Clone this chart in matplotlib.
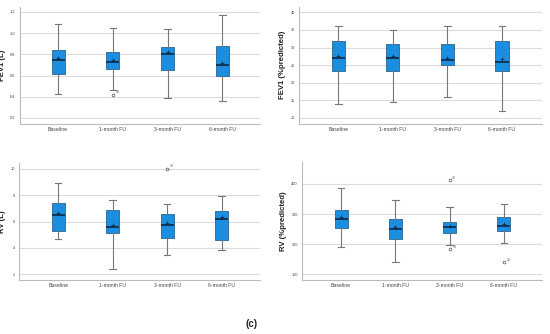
import matplotlib
matplotlib.use("Agg")
import matplotlib.pyplot as plt

plt.rcParams['font.family'] = ['Liberation Sans', 'DejaVu Sans']

categories = ["Baseline", "1-month FU", "3-month FU", "6-month FU"]

# FEV1 (L)
fev1_l_whislo = [0.43, 0.46, 0.39, 0.36]
fev1_l_q1 = [0.61, 0.66, 0.65, 0.60]
fev1_l_med = [0.75, 0.73, 0.80, 0.70]
fev1_l_q3 = [0.84, 0.82, 0.87, 0.88]
fev1_l_whishi = [1.09, 1.05, 1.04, 1.17]
fev1_l_mean = [0.77, 0.75, 0.82, 0.72]
fev1_l_fliers = [[], [0.42], [], []]
fev1_l_flier_labels = [[], ["19"], [], []]
fev1_l_ticks = [0.2, 0.4, 0.6, 0.8, 1.0, 1.2]

# FEV1 (%predicted)
fev1_p_whislo = [14.0, 14.5, 16.0, 12.0]
fev1_p_q1 = [23.2, 23.2, 25.0, 23.2]
fev1_p_med = [27.0, 27.0, 26.5, 25.9]
fev1_p_q3 = [31.9, 31.0, 31.0, 31.9]
fev1_p_whishi = [36.0, 34.9, 36.0, 36.0]
fev1_p_mean = [27.6, 27.6, 27.1, 26.7]
fev1_p_fliers = [[], [], [], []]
fev1_p_flier_labels = [[], [], [], []]
fev1_p_ticks = [10, 15, 20, 25, 30, 35, 40]

# RV (L)
rv_l_whislo = [4.68, 2.40, 3.49, 3.82]
rv_l_q1 = [5.31, 5.12, 4.78, 4.63]
rv_l_med = [6.48, 5.62, 5.77, 6.23]
rv_l_q3 = [7.42, 6.89, 6.61, 6.81]
rv_l_whishi = [8.91, 7.62, 7.32, 7.93]
rv_l_mean = [6.63, 5.75, 5.92, 6.38]
rv_l_fliers = [[], [], [10.02], []]
rv_l_flier_labels = [[], [], ["32"], []]
rv_l_ticks = [2, 4, 6, 8, 10]

# RV (%predicted)
rv_p_whislo = [190, 140, 197, 205]
rv_p_q1 = [254, 216, 239, 243]
rv_p_med = [284, 251, 257, 261]
rv_p_q3 = [313, 284, 273, 289]
rv_p_whishi = [386, 346, 323, 333]
rv_p_mean = [290, 257, 262, 268]
rv_p_fliers = [[], [], [413, 183], [140]]
rv_p_flier_labels = [[], [], ["32", "19"], ["26"]]
rv_p_ticks = [100, 200, 300, 400]

BOX = "#1b8ee0"
EDGE = "#1a4f7a"
WHISK = "#777777"
GRID = "#dcdcdc"


def draw(ax, lo, q1, med, q3, hi, mean, fliers, flabels, ticks, ylim, ylabel, xlim):
    stats = []
    for i in range(len(categories)):
        stats.append(dict(whislo=lo[i], q1=q1[i], med=med[i], q3=q3[i],
                          whishi=hi[i], mean=mean[i], fliers=fliers[i],
                          label=categories[i]))
    ax.set_axisbelow(True)
    ax.yaxis.grid(True, color=GRID, linewidth=0.8)
    ax.bxp(stats, positions=range(len(categories)), widths=0.24,
           showmeans=True, patch_artist=True,
           boxprops=dict(facecolor=BOX, edgecolor=EDGE, linewidth=0.5),
           medianprops=dict(color="#0d2f4f", linewidth=1.3),
           whiskerprops=dict(color=WHISK, linewidth=0.8),
           capprops=dict(color=WHISK, linewidth=0.8),
           capwidths=0.12,
           meanprops=dict(marker="+", markersize=3, markeredgecolor="#0d2f4f",
                          markeredgewidth=0.6),
           flierprops=dict(marker="o", markersize=2, markerfacecolor="none",
                           markeredgecolor="#555555", markeredgewidth=0.5))
    for i, (fv, fl) in enumerate(zip(fliers, flabels)):
        for v, t in zip(fv, fl):
            ax.annotate(t, (i, v), xytext=(2, 1), textcoords="offset points",
                        fontsize=2.5, color="#555555")
    ax.set_xlim(*xlim)
    ax.set_ylim(*ylim)
    ax.set_yticks(ticks)
    ax.set_yticklabels([str(t) for t in ticks])
    ax.set_xticks(range(len(categories)))
    ax.set_xticklabels(categories)
    ax.tick_params(axis="x", labelsize=3.7, colors="#444444", length=0, pad=2)
    ax.tick_params(axis="y", labelsize=2.8, colors="#444444", length=0, pad=3)
    for s in ["top", "right"]:
        ax.spines[s].set_visible(False)
    for s in ["left", "bottom"]:
        ax.spines[s].set_color("#bbbbbb")
        ax.spines[s].set_linewidth(0.8)
    ax.set_ylabel(ylabel, fontsize=5.6, fontweight="bold", color="#222222", labelpad=3)


fig = plt.figure(figsize=(5.5, 3.34), dpi=100)
ax1 = fig.add_axes([0.036, 0.629, 0.436, 0.350])
ax2 = fig.add_axes([0.544, 0.629, 0.441, 0.351])
ax3 = fig.add_axes([0.0345, 0.162, 0.438, 0.349])
ax4 = fig.add_axes([0.549, 0.162, 0.436, 0.354])

draw(ax1, fev1_l_whislo, fev1_l_q1, fev1_l_med, fev1_l_q3, fev1_l_whishi, fev1_l_mean,
     fev1_l_fliers, fev1_l_flier_labels, fev1_l_ticks, (0.143, 1.247), "FEV1 (L)", (-0.7, 3.68))
draw(ax2, fev1_p_whislo, fev1_p_q1, fev1_p_med, fev1_p_q3, fev1_p_whishi, fev1_p_mean,
     fev1_p_fliers, fev1_p_flier_labels, fev1_p_ticks, (8.3, 41.6), "FEV1 (%predicted)", (-0.72, 3.73))
draw(ax3, rv_l_whislo, rv_l_q1, rv_l_med, rv_l_q3, rv_l_whishi, rv_l_mean,
     rv_l_fliers, rv_l_flier_labels, rv_l_ticks, (1.57, 10.43), "RV (L)", (-0.72, 3.7))
draw(ax4, rv_p_whislo, rv_p_q1, rv_p_med, rv_p_q3, rv_p_whishi, rv_p_mean,
     rv_p_fliers, rv_p_flier_labels, rv_p_ticks, (82, 474), "RV (%predicted)", (-0.72, 3.7))

fig.text(0.457, 0.03, "(c)", fontsize=7, fontweight="bold", color="#222222", ha="center", va="center")

fig.savefig("out.png", dpi=100)
